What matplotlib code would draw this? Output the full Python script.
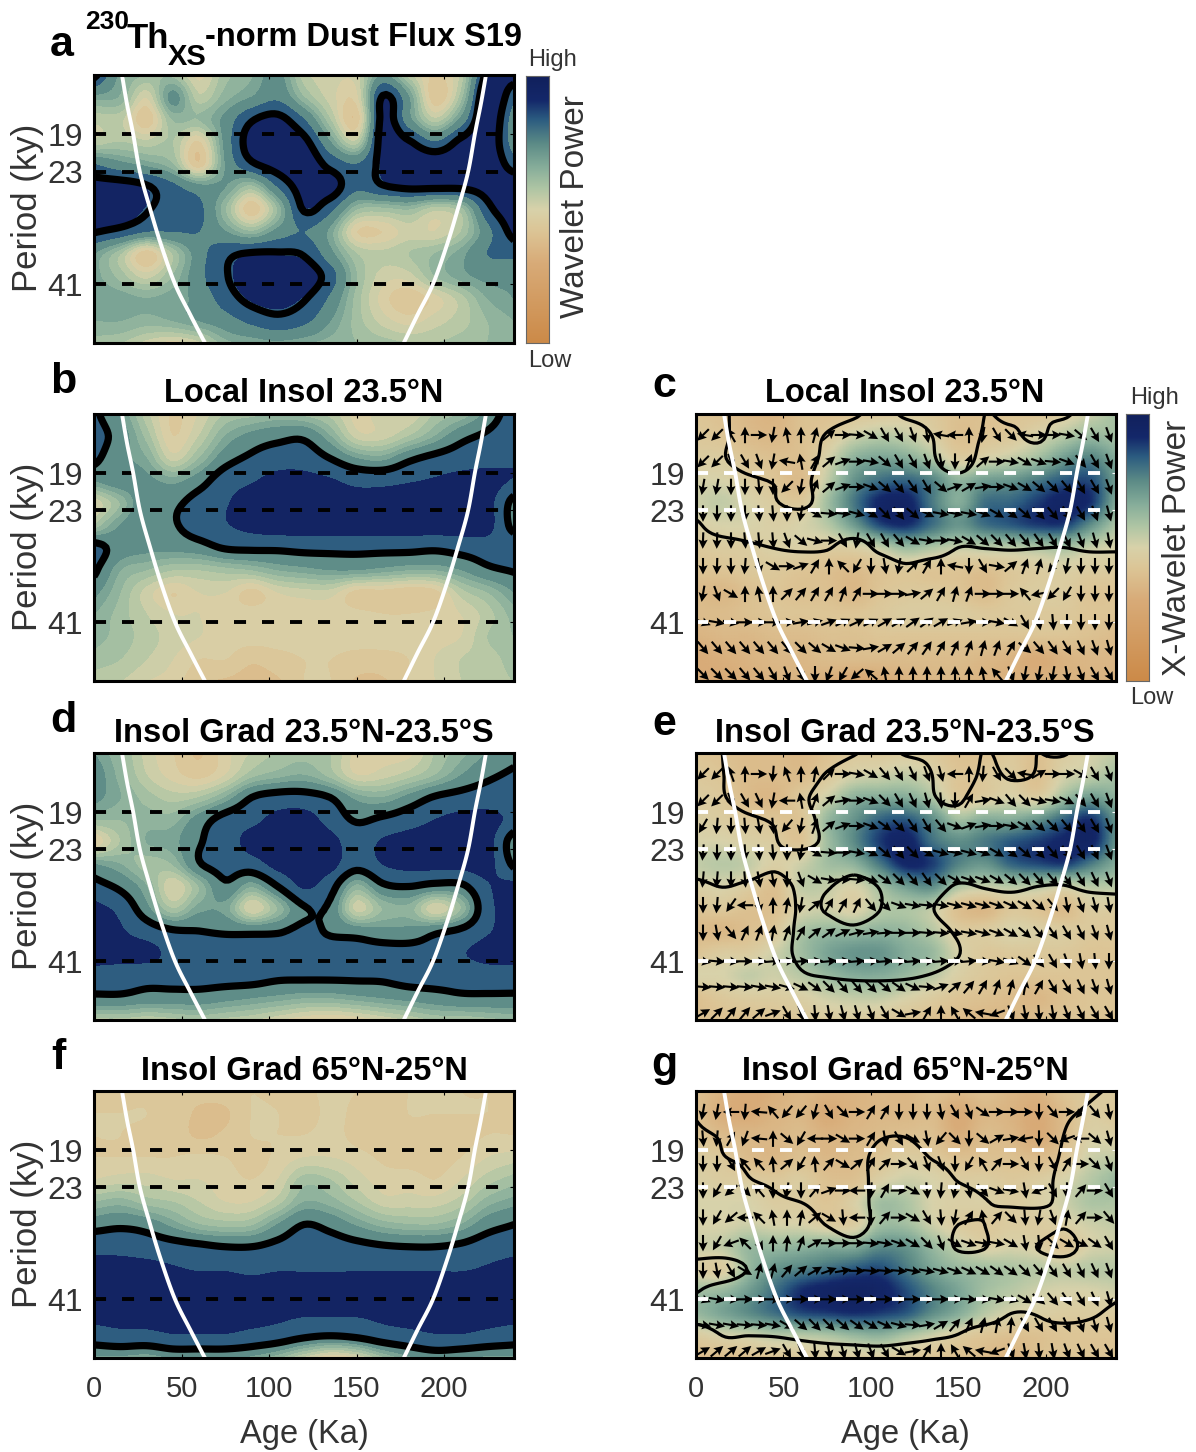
import numpy as np
import matplotlib
matplotlib.use('Agg')
import matplotlib.pyplot as plt
from matplotlib.colors import LinearSegmentedColormap, Normalize

plt.rcParams['font.family'] = ['Liberation Sans', 'DejaVu Sans']

W, H = 1196, 1452

ages = np.linspace(0, 240, 17)
periods = 14 * (55.5 / 14) ** (np.arange(13) / 12)

period_lines = [19, 23, 41]
age_ticks = [0, 50, 100, 150, 200]

coi_periods = [14, 16.3, 18.9, 23.1, 27.8, 33.5, 41, 47.9, 55.5]
coi_left = [16, 18.9, 22.3, 26.3, 32, 38.3, 46.3, 54.9, 63.4]
coi_right = [224, 221, 217.7, 213.7, 208, 201.7, 193.7, 185, 177]

power_a = [
    [90, 68, 62, 60, 48, 60, 65, 72, 55, 52, 52, 70, 55, 45, 55, 90, 92],
    [68, 65, 50, 72, 55, 64, 70, 76, 62, 52, 48, 88, 70, 42, 60, 95, 80],
    [55, 55, 42, 62, 62, 72, 86, 90, 78, 58, 42, 90, 72, 55, 72, 95, 72],
    [55, 58, 55, 58, 45, 72, 92, 95, 90, 70, 55, 92, 88, 78, 90, 95, 72],
    [78, 72, 68, 62, 42, 70, 85, 92, 95, 84, 78, 90, 95, 95, 95, 95, 82],
    [92, 92, 88, 80, 72, 70, 60, 78, 92, 92, 80, 86, 89, 89, 89, 92, 95],
    [95, 95, 88, 82, 80, 62, 42, 62, 88, 80, 62, 60, 62, 55, 60, 84, 95],
    [88, 84, 78, 78, 78, 70, 62, 72, 78, 68, 46, 46, 52, 50, 58, 75, 91],
    [70, 58, 42, 58, 74, 84, 88, 88, 86, 72, 58, 55, 58, 62, 68, 78, 80],
    [68, 60, 52, 62, 75, 86, 94, 95, 94, 82, 62, 52, 52, 62, 68, 72, 72],
    [70, 68, 66, 68, 72, 82, 90, 92, 88, 76, 60, 48, 42, 48, 56, 66, 70],
    [66, 66, 64, 66, 70, 74, 80, 84, 80, 70, 60, 52, 48, 52, 56, 62, 66],
    [60, 58, 52, 48, 52, 64, 66, 68, 66, 64, 62, 60, 58, 58, 60, 62, 64],
]
power_b = [
    [80, 70, 55, 45, 50, 58, 60, 62, 60, 56, 48, 52, 50, 58, 62, 72, 85],
    [82, 74, 60, 46, 54, 66, 72, 75, 76, 66, 52, 52, 58, 66, 75, 80, 85],
    [80, 72, 66, 52, 62, 74, 80, 84, 84, 78, 70, 68, 76, 81, 84, 86, 88],
    [70, 74, 72, 68, 74, 84, 88, 92, 92, 90, 86, 86, 88, 90, 92, 92, 88],
    [50, 62, 76, 76, 82, 88, 93, 94, 94, 93, 93, 93, 94, 94, 94, 92, 74],
    [58, 70, 76, 77, 83, 88, 92, 94, 94, 94, 94, 94, 94, 94, 94, 92, 74],
    [82, 74, 72, 72, 74, 79, 80, 80, 81, 81, 81, 81, 81, 80, 82, 84, 86],
    [80, 66, 62, 58, 58, 60, 62, 66, 68, 70, 70, 68, 66, 66, 70, 76, 79],
    [72, 62, 52, 46, 50, 50, 44, 50, 52, 52, 44, 44, 42, 44, 56, 62, 70],
    [66, 60, 54, 50, 50, 48, 48, 48, 48, 48, 47, 46, 46, 47, 50, 56, 64],
    [64, 60, 56, 52, 50, 48, 48, 48, 48, 48, 48, 48, 48, 48, 50, 58, 62],
    [60, 58, 54, 50, 46, 46, 42, 44, 46, 46, 44, 44, 46, 50, 54, 56, 60],
    [56, 54, 50, 48, 42, 40, 38, 40, 46, 46, 40, 40, 46, 50, 54, 56, 58],
]
power_d = [
    [70, 62, 52, 46, 40, 48, 54, 58, 60, 58, 48, 48, 48, 58, 64, 70, 74],
    [74, 64, 54, 48, 44, 50, 60, 64, 66, 60, 50, 52, 56, 62, 70, 76, 80],
    [72, 66, 60, 56, 58, 66, 78, 82, 82, 78, 68, 66, 72, 79, 82, 84, 84],
    [62, 62, 64, 64, 73, 82, 86, 92, 93, 85, 77, 80, 84, 89, 92, 92, 86],
    [45, 58, 66, 68, 77, 84, 92, 94, 94, 92, 84, 90, 93, 94, 94, 92, 72],
    [70, 66, 60, 62, 77, 82, 84, 92, 94, 92, 82, 89, 92, 92, 92, 92, 76],
    [82, 76, 66, 50, 62, 76, 66, 78, 90, 82, 64, 76, 78, 75, 76, 88, 92],
    [92, 86, 72, 58, 68, 68, 50, 62, 77, 76, 52, 62, 64, 50, 62, 86, 92],
    [94, 90, 84, 79, 78, 77, 76, 77, 80, 77, 74, 72, 72, 76, 80, 88, 92],
    [94, 92, 92, 86, 82, 82, 82, 82, 82, 82, 82, 82, 82, 82, 88, 92, 93],
    [84, 84, 82, 82, 82, 82, 82, 80, 80, 80, 80, 80, 82, 82, 82, 84, 84],
    [76, 76, 74, 74, 74, 72, 70, 68, 66, 66, 68, 70, 72, 74, 76, 76, 76],
    [56, 56, 54, 56, 58, 56, 54, 50, 46, 44, 46, 50, 54, 58, 58, 60, 62],
]
power_f = [
    [45, 44, 45, 44, 43, 44, 46, 44, 44, 48, 46, 44, 46, 47, 46, 46, 46],
    [46, 46, 46, 44, 40, 40, 46, 46, 42, 48, 44, 42, 46, 46, 46, 46, 46],
    [46, 46, 45, 44, 40, 42, 46, 46, 46, 48, 44, 42, 44, 42, 44, 46, 46],
    [46, 46, 46, 46, 47, 46, 44, 47, 50, 50, 48, 45, 44, 44, 46, 50, 52],
    [50, 52, 52, 50, 50, 48, 46, 50, 60, 58, 52, 48, 48, 46, 50, 56, 60],
    [62, 64, 60, 58, 54, 50, 50, 56, 66, 64, 58, 52, 52, 52, 56, 64, 68],
    [74, 76, 74, 68, 62, 60, 61, 70, 78, 75, 69, 64, 62, 62, 66, 74, 78],
    [86, 86, 84, 82, 80, 78, 78, 81, 84, 83, 81, 79, 78, 78, 80, 84, 86],
    [92, 92, 92, 90, 88, 88, 86, 88, 88, 88, 88, 88, 88, 88, 88, 90, 92],
    [95, 95, 95, 95, 95, 95, 95, 95, 95, 95, 95, 95, 95, 95, 95, 95, 95],
    [92, 92, 92, 92, 92, 92, 92, 91, 90, 90, 90, 91, 92, 92, 92, 92, 92],
    [84, 86, 86, 88, 88, 88, 86, 84, 80, 78, 80, 84, 86, 88, 88, 86, 84],
    [68, 68, 66, 70, 70, 70, 68, 62, 52, 44, 48, 60, 68, 72, 70, 68, 68],
]
power_c = [
    [42, 40, 36, 34, 40, 40, 42, 44, 46, 44, 40, 40, 42, 42, 46, 52, 60],
    [44, 42, 38, 36, 40, 44, 52, 56, 54, 48, 40, 42, 44, 50, 56, 62, 60],
    [46, 46, 42, 40, 40, 50, 64, 68, 66, 58, 46, 50, 54, 60, 70, 76, 66],
    [50, 50, 46, 42, 38, 54, 72, 80, 82, 76, 64, 70, 72, 78, 84, 86, 70],
    [52, 54, 50, 46, 44, 60, 78, 92, 94, 78, 66, 80, 82, 88, 94, 90, 66],
    [48, 50, 50, 48, 50, 56, 70, 86, 90, 80, 72, 80, 84, 88, 88, 74, 58],
    [44, 46, 46, 48, 48, 46, 48, 54, 62, 58, 54, 56, 56, 58, 60, 54, 50],
    [42, 42, 44, 44, 42, 40, 38, 42, 44, 42, 42, 40, 44, 46, 48, 46, 46],
    [38, 36, 40, 42, 40, 40, 36, 42, 44, 44, 42, 38, 44, 46, 46, 42, 42],
    [38, 38, 40, 42, 42, 42, 42, 44, 46, 46, 46, 44, 44, 44, 44, 42, 42],
    [34, 36, 36, 38, 38, 40, 40, 42, 42, 42, 42, 42, 42, 42, 42, 40, 38],
    [30, 32, 34, 36, 36, 38, 38, 38, 38, 38, 38, 36, 34, 30, 34, 36, 36],
    [30, 30, 32, 34, 34, 32, 28, 30, 34, 36, 36, 34, 32, 34, 34, 34, 34],
]
power_e = [
    [42, 40, 38, 38, 36, 40, 44, 44, 46, 44, 40, 40, 44, 40, 46, 50, 54],
    [44, 42, 38, 38, 38, 44, 50, 52, 54, 50, 42, 44, 46, 40, 50, 54, 60],
    [46, 44, 38, 36, 44, 52, 64, 66, 66, 58, 44, 46, 50, 46, 60, 70, 64],
    [48, 46, 44, 42, 42, 62, 72, 82, 84, 74, 60, 66, 66, 72, 82, 90, 72],
    [50, 50, 48, 46, 42, 60, 74, 88, 94, 80, 74, 78, 84, 88, 92, 94, 72],
    [54, 56, 54, 48, 52, 60, 64, 78, 92, 88, 76, 72, 82, 86, 88, 78, 66],
    [48, 50, 46, 40, 54, 54, 50, 60, 70, 74, 58, 54, 56, 56, 52, 56, 56],
    [42, 44, 40, 40, 50, 52, 48, 56, 58, 54, 40, 36, 44, 42, 38, 46, 46],
    [38, 36, 40, 44, 58, 62, 62, 64, 62, 56, 46, 46, 50, 48, 46, 44, 44],
    [42, 46, 46, 52, 60, 68, 72, 72, 66, 62, 50, 44, 44, 44, 44, 42, 42],
    [50, 50, 54, 52, 56, 62, 66, 66, 62, 56, 48, 44, 42, 42, 42, 42, 42],
    [40, 44, 46, 46, 48, 52, 54, 54, 50, 46, 42, 40, 38, 36, 40, 42, 42],
    [40, 40, 40, 42, 44, 46, 46, 44, 42, 40, 38, 36, 36, 40, 42, 42, 42],
]
power_g = [
    [40, 34, 30, 32, 36, 34, 34, 36, 36, 40, 38, 40, 36, 34, 42, 44, 46],
    [40, 32, 30, 34, 36, 30, 34, 36, 36, 38, 30, 36, 34, 30, 38, 46, 44],
    [42, 38, 36, 36, 38, 34, 36, 38, 40, 40, 32, 38, 36, 30, 38, 48, 48],
    [46, 44, 38, 36, 40, 36, 38, 42, 46, 44, 40, 40, 40, 38, 42, 52, 54],
    [48, 46, 46, 44, 46, 40, 40, 48, 52, 50, 46, 46, 44, 46, 50, 56, 62],
    [50, 50, 50, 46, 46, 42, 48, 60, 58, 50, 48, 48, 46, 48, 52, 58, 58],
    [50, 50, 52, 50, 50, 46, 46, 60, 60, 52, 46, 44, 46, 46, 48, 52, 54],
    [52, 54, 62, 62, 64, 66, 66, 74, 72, 62, 54, 48, 50, 48, 42, 50, 52],
    [48, 46, 62, 72, 76, 80, 84, 86, 78, 68, 62, 60, 58, 56, 54, 56, 56],
    [60, 62, 70, 80, 90, 94, 96, 94, 86, 76, 68, 60, 56, 52, 50, 50, 52],
    [62, 68, 74, 80, 86, 88, 90, 88, 84, 74, 66, 56, 50, 48, 46, 46, 46],
    [46, 50, 52, 56, 56, 58, 62, 64, 58, 52, 46, 42, 40, 40, 42, 42, 42],
    [38, 38, 40, 42, 44, 46, 46, 46, 44, 42, 40, 38, 34, 40, 42, 42, 42],
]

sig_c = [
    [3, 1, -3, -4, -4, -3, -1, 2, -1, -2, -4, 0, -1, 0, -1, 3, 3],
    [3, 1, -3, -4, -3, 0.5, 3, 3, 3, 0, -3, 0.5, 1, -1, 3, 3, 3],
    [3, 0.5, -3, -4, -2, 1, 3, 3, 3, 0.5, -3, 2, 3, 3, 3, 3, 3],
    [3, 3, 1, -0.3, -1, 2, 3, 3, 3, 2, 1.5, 3, 3, 3, 3, 3, 3],
    [3, 3, 2, 0.3, -1, 2, 3, 3, 3, 3, 3, 3, 3, 3, 3, 3, 3],
    [-1, 3, 3, 3, 3, 3, 3, 3, 3, 3, 3, 3, 3, 3, 3, 3, 3],
    [-3, -2.8, -1, 0.14, 0.7, 0.4, -2, 1.1, 3, 2.9, 0, 0.15, 0.4, 0.15, 0, 0.7, 0.7],
    [-3, -3, -3, -3, -3, -3, -3, -3, -1.1, -3, -3, -3, -3, -3, -3, -3, -3],
    [-3, -3, -3, -3, -3, -3, -3, -3, -3, -3, -3, -3, -3, -3, -3, -3, -3],
    [-3, -3, -3, -3, -3, -3, -3, -3, -3, -3, -3, -3, -3, -3, -3, -3, -3],
    [-3, -3, -3, -3, -3, -3, -3, -3, -3, -3, -3, -3, -3, -3, -3, -3, -3],
    [-3, -3, -3, -3, -3, -3, -3, -3, -3, -3, -3, -3, -3, -3, -3, -3, -3],
    [-3, -3, -3, -3, -3, -3, -3, -3, -3, -3, -3, -3, -3, -3, -3, -3, -3],
]
sig_e = [
    [3, 0, -3, -4, -4, -3, -0.5, 2, -0.5, -1, -3, 0.2, -1.5, 0, -0.5, 3, 3],
    [3, 0.2, -3, -4, -3, 0.5, 3, 3, 3, 0, -3, 1, -0.5, 0.3, 3, 3, 3],
    [3, 0.5, -3, -4, -1, 2, 3, 3, 3, 0.3, -0.8, 3, 2, 2, 3, 3, 3],
    [3, 3, 1, -0.5, -1.5, 1.5, 3, 3, 3, 2, 1.5, 3, 3, 3, 3, 3, 3],
    [3, 3, 3, 0.3, -1.5, 1, 3, 3, 3, 3, 3, 3, 3, 3, 3, 3, 3],
    [3, 3, 3, 1, 3, 3, 1.5, 3, 3, 3, 3, 3, 3, 3, 3, 3, 3],
    [-1.5, 0.1, -1, -2.5, 1, 0.3, -1.5, 0.2, 3, 2, -0.5, 0.3, 1, 0, -0.2, 1, 1.5],
    [-3, -3, -3, -3, 0.5, -0.3, -2, -0.1, 3, 0.2, -3, -3, -3, -3, -3, -3, -3],
    [-3, -3, -3, -3, 1, 1.5, 0.8, 2, 3, 2, -0.8, -3, -3, -3, -3, -3, -3],
    [-3, -3, -3, -2, 1, 3, 3, 3, 3, 3, 0.2, -3, -3, -3, -3, -3, -3],
    [-3, -3, -3, -3, -0.5, 0.3, 0.8, 0.9, 0.6, -0.3, -2, -3, -3, -3, -3, -3, -3],
    [-3, -3, -3, -3, -3, -3, -3, -3, -3, -3, -3, -3, -3, -3, -3, -3, -3],
    [-3, -3, -3, -3, -3, -3, -3, -3, -3, -3, -3, -3, -3, -3, -3, -3, -3],
]
sig_g = [
    [-3, -3, -3, -3, -3, -3, -3, -3, -3, -3, -3, -3, -3, -3, -3, -1, 1],
    [-0.5, -3, -3, -3, -3, -3, -3, -3, -3, -3, -3, -3, -3, -3, -1, 1, 3],
    [1, -0.5, -3, -3, -3, -3, -3, -0.5, -0.3, -3, -3, -3, -3, -3, 0, 3, 3],
    [3, 0.3, -1, -3, -3, -3, -2, 1.5, 3, -0.3, -2, -3, -3, -2, 0.5, 3, 3],
    [3, 3, 0.3, -1, -3, -3, -2, 1.5, 3, 3, -0.3, -2, -3, -1.5, 1, 3, 3],
    [3, 3, 3, 1, 0, -1.5, -2, 1.5, 3, 3, 3, 0.3, -0.8, -1, 1, 3, 3],
    [3, 3, 3, 3, 2, -0.2, -2, 1.5, 3, 3, 0, 0, 3, 3, 0.5, 3, 3],
    [3, 3, 3, 3, 3, 3, 1.5, 3, 3, 3, -0.5, -0.2, 3, -0.1, -2, 2, 3],
    [-2, -2.5, 0.2, 3, 3, 3, 3, 3, 3, 3, 3, 3, 3, 3, 3, 3, 3],
    [-0.3, 2, 3, 3, 3, 3, 3, 3, 3, 3, 3, 3, 3, 3, 3, 3, 1.5],
    [3, 3, 3, 3, 3, 3, 3, 3, 3, 3, 3, 3, 0, 0.3, 3, 1, -1.5],
    [-3.7, 0, 0, 0.14, 0.7, 1.3, 1.7, 2.1, 1.3, 0.58, -0.24, -2.8, -3, -2.5, -4, -3, -3],
    [-3, -3, -3, -3, -3, -3, -3, -3, -3, -3, -3, -3, -3, -3, -3, -3, -3],
]

arrow_ages = np.arange(4, 240, 8)
arrow_periods = [15.6, 17.9, 20.4, 23.4, 26.9, 30.7, 35.4, 41, 46.8, 53.6]

phase_c = [
    [225, 225, 120, 90, 0, -100, 100, 90, 75, 40, 0, -5, -30, -60, -60, -70, -80, 170, 180, 90, -100, -60, -45, 170, 0, 0, -10, -40, -60, -70],
    [225, 225, -70, -60, -70, -100, 170, 100, 60, 40, 20, 0, -10, -40, -60, -60, -70, -80, -90, 70, 40, 0, -10, -30, -20, -5, -20, -50, -60, -70],
    [-100, -100, -90, -90, -85, -90, 225, -100, 70, 40, 20, 0, -20, -40, -50, -55, -60, -40, 20, 30, 10, 0, -20, -30, -40, -45, -50, -60, -60, -70],
    [-90, -90, -90, -90, -85, -85, -90, -100, -30, -5, -5, -15, -30, -45, -50, -40, -25, -10, -10, -10, -20, -30, -35, -40, -45, -50, -60, -60, -70, -75],
    [-92, -92, -90, -85, -85, -85, -70, -40, -15, 0, -60, -100, -60, -60, -50, -30, -10, 0, -10, -30, -40, -45, -50, -50, -55, -60, -65, -70, -75, -80],
    [-90, -92, -88, -95, -80, -30, 0, 20, 60, 90, 135, 240, -90, -80, -100, 45, 60, 90, 170, -90, -60, -10, 40, 70, 75, 230, -100, -90, -90, -90],
    [-100, -70, -30, 90, 100, 90, 45, 50, 60, 60, 70, 60, 0, 0, 0, 10, 40, 60, 75, 70, 0, 0, 0, 130, 190, 225, 240, -90, -90, -90],
    [-20, -10, -10, 0, 0, 0, 5, 10, 15, 20, 25, 25, 25, 30, 30, 35, 35, 30, 20, 10, 0, -10, -30, -60, -80, -85, -90, -90, -90, -90],
    [-50, -50, -50, -50, -50, -50, -50, -45, -40, -30, -20, -5, 10, 30, 40, 50, 55, 60, 65, 70, 75, 70, 60, -40, -50, -55, -60, -65, -70, -75],
    [-45, -45, -45, -50, -50, -60, -70, -60, -90, 250, 240, 220, 140, 100, 90, 90, 90, 90, 90, 90, 100, 130, -70, -100, -100, -100, -80, -70, -60, -60],
]
phase_e = [
    [225, 225, 110, 90, 0, -95, 110, 90, 80, 45, 0, -10, -30, -50, -60, -65, -70, -75, 180, 90, -95, -60, -45, 170, 30, 0, 0, -30, -60, -70],
    [225, 225, -70, -60, -65, -100, 180, 100, 70, 40, 10, 0, -20, -45, -60, -65, -75, -85, -90, 60, 10, -20, -50, -45, -15, -10, -25, -50, -60, -70],
    [240, -95, -90, -85, -80, -85, 230, -100, 70, 40, 20, 0, -20, -35, -45, -55, -60, -50, -20, 20, 10, 0, -10, -30, -40, -45, -50, -55, -60, -70],
    [-95, -90, -90, -88, -85, -85, -90, -100, -30, -5, 0, -10, -25, -40, -50, -45, -30, -15, -10, -15, -20, -30, -35, -40, -45, -50, -55, -60, -65, -70],
    [-95, -95, -90, -85, -80, -80, -90, -70, -30, -10, 0, -5, -20, -35, -45, -50, -55, -45, -30, -20, -20, -30, -40, -45, -50, -50, -55, -60, -65, -70],
    [-90, -95, 235, 180, -80, 90, 80, -100, 40, 60, 60, 65, -50, -45, -20, -10, -5, -10, -15, -15, -15, -20, -25, -30, -40, -50, -80, -70, -75, -80],
    [-90, -80, -50, 65, 70, 80, 70, 60, 40, 35, 25, 15, 10, 5, 0, 0, -5, -5, -10, -10, -15, -20, -30, -40, -50, -55, -60, -65, -70, -75],
    [-10, -5, -5, 0, 0, 5, 5, 5, 5, 5, 5, 5, 5, 5, 5, 5, 5, 5, 5, 5, -5, -10, -20, -35, -50, -60, -70, -80, -85, -90],
    [-5, -5, -5, -5, -10, -10, -15, -25, -35, -45, -50, -50, -45, -40, -35, -25, -5, 20, 40, 50, 60, 70, 75, 80, 60, -60, -60, -65, -70, -75],
    [30, 45, 50, 50, 40, 20, -60, -70, -85, -80, -75, -75, -70, -60, -30, 10, 60, 90, 120, 140, 170, 200, -70, -80, -85, -80, -70, -65, -60, -60],
]
phase_g = [
    [-100, -100, 180, -95, 175, 130, 230, 230, -105, -60, -45, 0, 60, 60, -90, -90, -90, -80, -60, -70, -35, 0, 0, 0, -90, -50, 0, 230, -50, -80],
    [-85, -95, 60, -110, 175, 90, -40, 240, 180, 0, -30, 0, 60, -80, -60, -30, -80, 230, -45, -90, -40, 30, 10, 190, -90, -45, 200, 180, -40, -75],
    [-90, -90, -60, 130, 130, 95, 40, 240, 95, 50, -30, 40, 60, 45, 0, -50, -70, -70, -90, 240, 120, 50, 0, -60, -90, -60, 60, 0, -45, -70],
    [-90, 240, 220, -45, 130, -90, -100, -90, 50, 20, 0, 180, -95, 60, 0, -30, -85, -95, -100, -80, -50, -20, -10, -80, 200, -60, -90, 50, 0, -60],
    [-90, 240, 220, 180, 135, 100, 90, 80, 40, -30, -85, 180, -90, 50, 0, -30, -60, -85, -100, 60, 100, 50, -45, -85, -100, -70, 80, 50, 0, -50],
    [-90, 240, 200, 135, -60, 90, 85, 70, 30, 0, 0, 0, -5, -10, -20, -30, -45, -70, -30, -20, -10, -10, -30, -80, -85, -45, -30, -25, -35, -60],
    [-90, -80, -60, -30, 75, 75, 50, 40, 30, 20, 10, 0, -5, -5, -5, -10, -10, -15, -20, -25, -30, -35, -35, -45, -50, -55, -60, -65, -65, -70],
    [-20, -10, -5, 0, 0, 0, 0, 0, 0, 0, 0, 0, 0, 0, 0, 0, 0, 0, 0, -5, -5, -10, -15, -30, -40, -50, -55, -60, -65, -75],
    [-10, -10, -10, -5, -5, -10, -30, -40, -45, -45, -40, -35, -30, -25, -15, -5, 10, 30, 50, 65, 75, 80, 85, -60, -60, -60, -65, -70, -75, -75],
    [30, 40, 40, 40, 30, 20, -60, -70, -85, -80, -75, -75, -70, -60, -30, 10, 60, 90, 120, 140, 170, 200, -70, -80, -85, -80, -70, -65, -60, -60],
]

power_cmap = LinearSegmentedColormap.from_list('power', [
    (0.00, '#cc8a48'), (0.30, '#d8ab78'), (0.42, '#dcc596'), (0.50, '#d8d2aa'),
    (0.58, '#aec5a4'), (0.66, '#86ad9a'), (0.75, '#5b8a86'), (0.84, '#2b5b80'),
    (0.91, '#14286a'), (1.00, '#11205c'),
])
norm = Normalize(0, 100)
band_levels = [0, 36, 41, 46, 50, 54, 58, 62, 66, 70, 78, 89, 101]


def px_axes(fig, x0, y0, x1, y1):
    return fig.add_axes([x0 / W, 1 - y1 / H, (x1 - x0) / W, (y1 - y0) / H])


def px_text(fig, x, y, s, **kw):
    kw.setdefault('ha', 'center')
    kw.setdefault('va', 'center')
    kw.setdefault('color', '#333333')
    return fig.text(x / W, 1 - y / H, s, **kw)


def refine_1d(values, n=8):
    # catmull-rom along the last axis, only to draw the grid without corners
    values = np.asarray(values, float)
    pad = np.concatenate([2 * values[..., :1] - values[..., 1:2], values,
                          2 * values[..., -1:] - values[..., -2:-1]], axis=-1)
    m = values.shape[-1]
    t = np.linspace(0, m - 1, (m - 1) * n + 1)
    i = np.minimum(t.astype(int), m - 2)
    f = t - i
    p0, p1, p2, p3 = pad[..., i], pad[..., i + 1], pad[..., i + 2], pad[..., i + 3]
    return 0.5 * (2 * p1 + (p2 - p0) * f + (2 * p0 - 5 * p1 + 4 * p2 - p3) * f ** 2
                  + (3 * p1 - p0 - 3 * p2 + p3) * f ** 3)


def refine(grid):
    return refine_1d(refine_1d(grid).T).T


def dress(ax, line_color, show_x):
    for p in period_lines:
        ax.axhline(p, color=line_color, lw=2.8, linestyle=(0, (3.1, 4.1)), zorder=6)
    coi_y = np.exp(refine_1d(np.log(coi_periods)))
    ax.plot(refine_1d(coi_left), coi_y, color='white', lw=2.8, zorder=7)
    ax.plot(refine_1d(coi_right), coi_y, color='white', lw=2.8, zorder=7)
    ax.set_xlim(0, 240)
    ax.set_yscale('log')
    ax.set_ylim(55.5, 14)
    ax.minorticks_off()
    ax.set_yticks(period_lines)
    ax.set_yticklabels([str(p) for p in period_lines], fontsize=23, color='#333333')
    ax.set_xticks(age_ticks)
    ax.set_xticklabels([str(a) for a in age_ticks] if show_x else [],
                       fontsize=21, color='#333333')
    ax.tick_params(axis='both', which='major', direction='in', length=3, width=0.8,
                   top=True, right=True)
    ax.tick_params(axis='y', pad=8)
    ax.tick_params(axis='x', pad=12)
    for s in ax.spines.values():
        s.set_linewidth(2.2)
        s.set_zorder(10)


def power_panel(fig, box, grid, level, show_x=False):
    ax = px_axes(fig, *box)
    x = refine_1d(ages)
    y = np.exp(refine_1d(np.log(periods)))
    z = refine(grid)
    mids = [(a + b) / 2 for a, b in zip(band_levels[:-1], band_levels[1:])]
    ax.contourf(x, y, z, levels=band_levels, colors=[power_cmap(norm(m)) for m in mids],
                extend='both', zorder=1)
    ax.contour(x, y, z, levels=[level], colors='black', linewidths=5.2, zorder=5)
    dress(ax, 'black', show_x)
    return ax


def cross_panel(fig, box, grid, sig, phase, show_x=False):
    ax = px_axes(fig, *box)
    x = refine_1d(ages)
    y = np.exp(refine_1d(np.log(periods)))
    ax.pcolormesh(x, y, refine(grid), cmap=power_cmap, norm=norm, shading='gouraud', zorder=1)
    ax.contour(x, y, refine(sig), levels=[0], colors='black', linewidths=2.3, zorder=5)
    a = np.radians(np.array(phase, float))
    xx, yy = np.meshgrid(arrow_ages, arrow_periods)
    ax.quiver(xx, yy, np.cos(a), np.sin(a), angles='uv', pivot='mid',
              scale=1 / 0.165, scale_units='inches', units='dots',
              width=2.1, headwidth=4.4, headlength=4.4, headaxislength=3.8,
              color='black', zorder=4)
    dress(ax, 'white', show_x)
    ax.tick_params(axis='y', color='white')
    return ax


def colorbar(fig, box):
    ax = px_axes(fig, *box)
    ax.imshow(np.linspace(100, 0, 256)[:, None], cmap=power_cmap, norm=norm, aspect='auto')
    ax.set_xticks([])
    ax.set_yticks([])
    for s in ax.spines.values():
        s.set_linewidth(0.8)
        s.set_color('#666666')


fig = plt.figure(figsize=(W / 100, H / 100), dpi=100)

left = (94, 514)
right = (696, 1116)
tops = [(75, 343), (414, 681), (753, 1020), (1091, 1358)]

power_panel(fig, (left[0], tops[0][0], left[1], tops[0][1]), power_a, 87)
power_panel(fig, (left[0], tops[1][0], left[1], tops[1][1]), power_b, 78)
power_panel(fig, (left[0], tops[2][0], left[1], tops[2][1]), power_d, 78)
power_panel(fig, (left[0], tops[3][0], left[1], tops[3][1]), power_f, 78, show_x=True)
cross_panel(fig, (right[0], tops[1][0], right[1], tops[1][1]), power_c, sig_c, phase_c)
cross_panel(fig, (right[0], tops[2][0], right[1], tops[2][1]), power_e, sig_e, phase_e)
cross_panel(fig, (right[0], tops[3][0], right[1], tops[3][1]), power_g, sig_g, phase_g, show_x=True)

colorbar(fig, (526, 76, 549, 343))
colorbar(fig, (1126, 414, 1149, 681))

title_kw = dict(fontsize=23.5, fontweight='bold', color='black')
px_text(fig, 304, 394, 'Local Insol 23.5°N', **title_kw)
px_text(fig, 905, 394, 'Local Insol 23.5°N', **title_kw)
px_text(fig, 304, 733, 'Insol Grad 23.5°N-23.5°S', **title_kw)
px_text(fig, 905, 733, 'Insol Grad 23.5°N-23.5°S', **title_kw)
px_text(fig, 304, 1071, 'Insol Grad 65°N-25°N', **title_kw)
px_text(fig, 905, 1071, 'Insol Grad 65°N-25°N', **title_kw)

px_text(fig, 107, 22, '230', fontsize=19, fontweight='bold', color='black')
px_text(fig, 148, 38, 'Th', fontsize=25, fontweight='bold', color='black')
px_text(fig, 187, 57, 'XS', fontsize=21, fontweight='bold', color='black')
px_text(fig, 205, 38, '-norm Dust Flux S19', ha='left', **title_kw)

letter_kw = dict(fontsize=31, fontweight='bold', color='black')
for s, x, y in [('a', 62, 45), ('b', 63, 382), ('c', 664, 386), ('d', 63, 721),
                ('e', 664, 724), ('f', 58, 1058), ('g', 664, 1065)]:
    px_text(fig, x, y, s, **letter_kw)

for top in tops:
    px_text(fig, 28, top[0] + 133, 'Period (ky)', fontsize=25, rotation=90)
px_text(fig, 304, 1434, 'Age (Ka)', fontsize=23.5)
px_text(fig, 905, 1434, 'Age (Ka)', fontsize=23.5)

px_text(fig, 552, 60, 'High', fontsize=17)
px_text(fig, 550, 361, 'Low', fontsize=17)
px_text(fig, 1154, 398, 'High', fontsize=17)
px_text(fig, 1152, 698, 'Low', fontsize=17)
px_text(fig, 575, 207, 'Wavelet Power', fontsize=24, rotation=90)
px_text(fig, 1177, 548, 'X-Wavelet Power', fontsize=24, rotation=90)

fig.savefig('out.png', dpi=100, facecolor='white')
